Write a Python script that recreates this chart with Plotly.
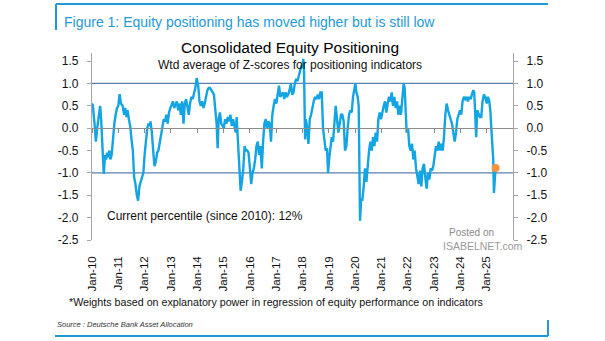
import plotly.graph_objects as go

# ---------------- data ----------------
DATES = [
    "2010-01-01", "2010-01-13", "2010-02-05", "2010-02-24", "2010-03-14", "2010-04-01", "2010-04-24",
    "2010-05-08", "2010-05-22", "2010-06-04", "2010-06-13", "2010-07-02", "2010-07-16", "2010-07-29",
    "2010-08-17", "2010-08-30", "2010-09-13", "2010-10-01", "2010-10-20", "2010-11-07", "2010-11-25",
    "2010-12-14",
    "2011-01-01", "2011-01-19", "2011-02-07", "2011-03-02", "2011-03-24", "2011-04-07", "2011-04-25",
    "2011-05-09", "2011-05-28", "2011-06-15", "2011-07-03", "2011-07-22", "2011-08-09", "2011-08-27",
    "2011-09-15", "2011-10-03", "2011-10-21", "2011-11-09", "2011-11-27", "2011-12-15",
    "2012-01-01", "2012-01-19", "2012-02-07", "2012-02-25", "2012-03-14", "2012-03-23", "2012-04-11",
    "2012-04-29", "2012-05-17", "2012-06-05", "2012-06-23", "2012-07-11", "2012-07-30", "2012-08-17",
    "2012-09-04", "2012-09-23", "2012-10-11", "2012-10-29", "2012-11-17", "2012-12-05", "2012-12-23",
    "2013-01-10", "2013-01-28", "2013-02-15", "2013-03-06", "2013-03-24", "2013-04-11", "2013-04-30",
    "2013-05-18", "2013-06-05", "2013-06-24", "2013-07-12", "2013-07-30", "2013-08-18", "2013-09-05",
    "2013-09-23", "2013-10-12", "2013-10-30", "2013-11-17", "2013-12-06", "2013-12-24",
    "2014-01-14", "2014-02-01", "2014-02-19", "2014-03-10", "2014-03-28", "2014-04-15", "2014-05-04",
    "2014-05-22", "2014-06-09", "2014-06-28", "2014-07-16", "2014-08-03", "2014-08-21", "2014-09-09",
    "2014-09-27", "2014-10-11", "2014-10-25", "2014-11-12", "2014-11-30", "2014-12-19",
    "2015-01-05", "2015-01-23", "2015-02-10", "2015-03-01", "2015-03-19", "2015-04-06", "2015-04-25",
    "2015-05-13", "2015-05-31", "2015-06-19", "2015-07-02", "2015-07-21", "2015-08-08", "2015-08-26",
    "2015-09-13", "2015-10-02", "2015-10-20", "2015-11-07", "2015-11-26", "2015-12-14",
    "2016-01-08", "2016-01-20", "2016-02-07", "2016-02-26", "2016-03-15", "2016-04-02", "2016-04-21",
    "2016-05-09", "2016-05-27", "2016-06-15", "2016-07-03", "2016-07-21", "2016-08-09", "2016-08-27",
    "2016-09-14", "2016-10-03", "2016-10-21", "2016-11-08", "2016-11-27", "2016-12-15",
    "2017-01-03", "2017-01-21", "2017-02-09", "2017-02-27", "2017-03-17", "2017-04-05", "2017-04-23",
    "2017-05-11", "2017-05-30", "2017-06-17", "2017-07-05", "2017-07-24", "2017-08-11", "2017-08-29",
    "2017-09-17", "2017-10-05", "2017-10-23", "2017-11-11", "2017-11-29", "2017-12-17", "2017-12-28",
    "2018-01-12", "2018-01-22", "2018-01-29", "2018-02-06", "2018-02-17", "2018-03-06", "2018-03-24",
    "2018-04-12", "2018-04-30", "2018-05-19", "2018-06-06", "2018-06-25", "2018-07-13", "2018-08-01",
    "2018-08-19", "2018-09-06", "2018-09-25", "2018-10-13", "2018-11-01", "2018-11-19", "2018-12-08",
    "2018-12-22",
    "2019-01-05", "2019-01-24", "2019-02-11", "2019-03-01", "2019-03-20", "2019-04-07", "2019-04-25",
    "2019-05-14", "2019-06-01", "2019-06-20", "2019-07-08", "2019-07-27", "2019-08-14", "2019-09-02",
    "2019-09-20", "2019-10-09", "2019-10-27", "2019-11-15", "2019-12-03", "2019-12-22",
    "2020-01-05", "2020-01-19", "2020-02-06", "2020-02-20", "2020-03-01", "2020-03-10", "2020-03-24",
    "2020-04-11", "2020-04-30", "2020-05-18", "2020-06-06", "2020-06-24", "2020-07-13", "2020-07-31",
    "2020-08-19", "2020-09-06", "2020-09-25", "2020-10-13", "2020-11-01", "2020-11-19", "2020-12-08",
    "2020-12-26",
    "2021-01-14", "2021-02-01", "2021-02-20", "2021-03-10", "2021-03-29", "2021-04-16", "2021-05-05",
    "2021-05-23", "2021-06-10", "2021-06-29", "2021-07-17", "2021-08-05", "2021-08-23", "2021-09-11",
    "2021-09-29", "2021-10-18", "2021-11-05", "2021-11-19", "2021-12-03", "2021-12-17",
    "2022-01-05", "2022-01-23", "2022-02-11", "2022-03-01", "2022-03-20", "2022-04-07", "2022-04-26",
    "2022-05-14", "2022-06-01", "2022-06-20", "2022-07-08", "2022-07-27", "2022-08-14", "2022-09-02",
    "2022-09-20", "2022-10-09", "2022-10-27", "2022-11-15", "2022-12-03", "2022-12-22",
    "2023-01-10", "2023-01-28", "2023-02-16", "2023-03-06", "2023-03-25", "2023-04-12", "2023-05-01",
    "2023-05-19", "2023-06-07", "2023-06-25", "2023-07-14", "2023-08-01", "2023-08-20", "2023-09-07",
    "2023-09-26", "2023-10-14", "2023-11-02", "2023-11-20", "2023-12-09", "2023-12-27",
    "2024-01-14", "2024-02-01", "2024-02-20", "2024-03-09", "2024-03-28", "2024-04-15", "2024-05-04",
    "2024-05-22", "2024-06-10", "2024-06-28", "2024-07-12", "2024-07-26", "2024-08-08", "2024-08-22",
    "2024-09-10", "2024-09-28", "2024-10-17", "2024-11-04", "2024-11-23", "2024-12-11",
    "2025-01-01", "2025-01-19", "2025-02-06", "2025-02-20", "2025-03-06", "2025-03-20", "2025-04-02",
    "2025-04-11", "2025-04-25", "2025-05-04",
]

VALUES = [
    0.55, 0.50, 0.10, -0.30, 0.00, 0.20, 0.50,
    0.20, -0.30, -0.90, -1.02, -0.60, -0.70, -0.55,
    -0.65, -0.50, -0.70, -0.60, -0.20, 0.10, 0.30,
    0.45,
    0.50, 0.76, 0.55, 0.50, 0.30, 0.45, 0.25,
    0.40, 0.20, 0.05, -0.25, -0.50, -1.10, -1.25,
    -1.50, -1.62, -1.30, -1.20, -1.05, -1.00,
    -0.60, -0.30, 0.00, 0.10, 0.05, 0.15, -0.10,
    -0.50, -0.85, -0.75, -0.55, -0.50, -0.30, -0.10,
    0.05, 0.20, 0.15, 0.30, 0.10, 0.35, 0.45,
    0.55, 0.60, 0.45, 0.55, 0.60, 0.40, 0.55,
    0.30, 0.60, 0.10, 0.55, 0.65, 0.45, 0.30,
    0.55, 0.70, 0.65, 0.75, 0.90, 1.12,
    0.95, 0.60, 0.50, 0.60, 0.45, 0.55, 0.70,
    0.85, 0.90, 0.90, 0.85, 0.80, 0.75, 0.40,
    0.10, -0.45, 0.20, 0.35, 0.10, 0.05,
    0.00, 0.20, 0.10, 0.25, 0.15, 0.30, 0.05,
    0.20, 0.05, -0.10, 0.25, -0.30, -1.00, -1.40,
    -1.20, -0.90, -0.40, -0.50, -0.50, -0.55,
    -1.00, -1.25, -1.00, -0.90, -0.70, -0.40, -0.30,
    -0.60, -0.40, -0.90, -0.30, 0.10, 0.20, 0.00,
    0.15, 0.10, -0.30, 0.30, 0.50, 0.65,
    0.55, 0.80, 0.95, 0.70, 0.75, 0.80, 0.65,
    0.80, 0.70, 0.75, 0.85, 1.00, 0.75, 0.80,
    1.00, 1.10, 1.05, 1.20, 1.30, 1.40, 1.35,
    1.55, 1.30, 0.50, -0.25, 0.20, 0.00, -0.35,
    0.20, 0.30, 0.50, 0.60, 0.70, 0.65, 0.75,
    0.65, 0.80, 0.80, 0.00, -0.30, -0.50, -0.45,
    -1.00,
    -0.70, -0.40, -0.20, -0.30, 0.20, 0.50, 0.20,
    -0.10, 0.10, 0.30, 0.30, 0.15, -0.50, -0.40,
    0.00, 0.30, 0.40, 0.35, 0.70, 0.85,
    1.00, 0.80, 0.70, 0.50, -0.50, -2.07, -1.60,
    -1.60, -1.30, -0.90, -1.20, -0.80, -0.50, -0.30,
    -0.50, -0.20, -0.40, -0.10, -0.30, 0.20, 0.35,
    0.20,
    0.40, 0.50, 0.60, 0.35, 0.55, 0.70, 0.60,
    0.80, 0.50, 0.70, 0.45, 0.60, 0.30, 0.50,
    0.30, 0.80, 1.00, 0.90, 0.20, -0.10,
    0.00, -0.40, -0.50, -0.35, -0.70, -0.50, -0.90,
    -1.05, -1.25, -0.95, -1.30, -0.90, -0.80, -1.10,
    -1.35, -1.00, -1.15, -0.90, -0.95, -0.85,
    -0.60, -0.40, -0.50, -0.30, -0.50, -0.35, -0.50,
    -0.20, 0.30, 0.55, 0.40, 0.30, 0.20, 0.10,
    -0.10, -0.30, -0.10, 0.20, 0.30, 0.40,
    0.30, 0.60, 0.70, 0.65, 0.70, 0.60, 0.70,
    0.65, 0.75, 0.85, 0.80, 0.20, -0.20, 0.40,
    0.30, 0.25, 0.25, 0.60, 0.75, 0.70,
    0.55, 0.70, 0.60, 0.40, 0.00, -0.35, -0.70,
    -1.45, -0.90, -0.89,
]

YEAR_TICKS = [f"{y}-01-01" for y in range(2010, 2026)]
YEAR_LABELS = [f"Jan-{y % 100:02d}" for y in range(2010, 2026)]
X_RANGE = ["2010-01-01", "2026-01-01"]

Y_TICKS = [-2.5, -2.0, -1.5, -1.0, -0.5, 0.0, 0.5, 1.0, 1.5]
Y_LABELS = ["-2.5", "-2.0", "-1.5", "-1.0", "-0.5", "0.0", "0.5", "1.0", "1.5"]
Y_RANGE = [-2.5, 1.68]
REF_LINES = [1.0, -1.0]

FIG_TITLE = "Figure 1: Equity positioning has moved higher but is still low"
CHART_TITLE = "Consolidated Equity Positioning"
SUBTITLE = "Wtd average of Z-scores for positioning indicators"
NOTE = "Current percentile (since 2010): 12%"
FOOTNOTE = "*Weights based on explanatory power in regression of equity performance on indicators"
SOURCE = "Source : Deutsche Bank Asset Allocation"

# ---------------- style ----------------
W, H = 605, 341
ML, MR, MT, MB = 92, 92, 53, 101
PW, PH = W - ML - MR, H - MT - MB
FONT = "Liberation Sans, Arial, Helvetica, sans-serif"
LINE_C = "#13A4E3"
DOT_C = "#F4923F"
AXIS_C = "#A6A6A6"
REF_C = "#5B7FAA"
BRAND_C = "#1E9AD6"


def fx(px):
    return (px - ML) / PW


def fy(py):
    return (H - MB - py) / PH


fig = go.Figure()
fig.add_trace(go.Scatter(x=DATES, y=VALUES, mode="lines",
                         line=dict(color=LINE_C, width=2.4), showlegend=False, hoverinfo="skip"))
fig.add_trace(go.Scatter(x=[DATES[-1]], y=[VALUES[-1]], mode="markers",
                         marker=dict(color=DOT_C, size=8), showlegend=False, hoverinfo="skip"))
# helper traces to bring the right axis and the zero-line axis to life
fig.add_trace(go.Scatter(x=[DATES[0]], y=[VALUES[0]], mode="lines", yaxis="y2",
                         showlegend=False, hoverinfo="skip", line=dict(width=0)))
fig.add_trace(go.Scatter(x=[DATES[0]], y=[VALUES[0]], mode="lines", xaxis="x2",
                         showlegend=False, hoverinfo="skip", line=dict(width=0)))

for v in REF_LINES:
    fig.add_hline(y=v, line=dict(color=REF_C, width=1.2), layer="below")

zero_pos = (0 - Y_RANGE[0]) / (Y_RANGE[1] - Y_RANGE[0])

yaxis_common = dict(range=Y_RANGE, tickvals=Y_TICKS, ticktext=Y_LABELS, showgrid=False,
                    zeroline=False, showline=True, linecolor=AXIS_C, linewidth=1.2,
                    ticks="outside", ticklen=4, tickcolor=AXIS_C,
                    tickfont=dict(family=FONT, size=12, color="#111111"), ticklabelstandoff=6)

fig.update_layout(
    width=W, height=H,
    margin=dict(l=ML, r=MR, t=MT, b=MB, autoexpand=False),
    paper_bgcolor="white", plot_bgcolor="white",
    xaxis=dict(type="date", range=X_RANGE, tickvals=YEAR_TICKS, ticktext=YEAR_LABELS,
               tickangle=-90, showgrid=False, zeroline=False, showline=False, ticks="",
               tickfont=dict(family=FONT, size=11.5, color="#111111"), ticklabelstandoff=13),
    xaxis2=dict(type="date", range=X_RANGE, tickvals=YEAR_TICKS, overlaying="x",
                anchor="free", position=zero_pos, side="bottom", showticklabels=False,
                showgrid=False, zeroline=False, showline=True, linecolor="#8C8C8C", linewidth=1.2,
                ticks="outside", ticklen=4, tickcolor="#8C8C8C"),
    yaxis=dict(side="left", **yaxis_common),
    yaxis2=dict(side="right", overlaying="y", anchor="x", **yaxis_common),
)

ann = [
    dict(text=FIG_TITLE, x=fx(62), y=fy(22), xanchor="left", yanchor="middle",
         font=dict(family=FONT, size=14, color=BRAND_C)),
    dict(text=CHART_TITLE, x=fx(290), y=fy(48), xanchor="center", yanchor="middle",
         font=dict(family=FONT, size=15.5, color="#000000")),
    dict(text=SUBTITLE, x=fx(289.5), y=fy(65), xanchor="center", yanchor="middle",
         font=dict(family=FONT, size=12, color="#111111")),
    dict(text=NOTE, x=fx(105), y=fy(216), xanchor="left", yanchor="middle",
         font=dict(family=FONT, size=12, color="#111111")),
    dict(text=FOOTNOTE, x=fx(67), y=fy(302), xanchor="left", yanchor="middle",
         font=dict(family=FONT, size=10.7, color="#111111")),
    dict(text="<i>" + SOURCE + "</i>", x=fx(55), y=fy(324), xanchor="left", yanchor="middle",
         font=dict(family=FONT, size=7.5, color="#333333")),
    dict(text="Posted on", x=fx(447), y=fy(232), xanchor="left", yanchor="middle",
         font=dict(family=FONT, size=10, color="#8A8A8A")),
    dict(text="ISABELNET.com", x=fx(441), y=fy(246), xanchor="left", yanchor="middle",
         font=dict(family=FONT, size=10.5, color="#9A9A9A")),
]
for a in ann:
    a.update(xref="paper", yref="paper", showarrow=False)
fig.update_layout(annotations=ann)

shp = [
    dict(x0=fx(56), x1=fx(548), y0=fy(4), y1=fy(4)),
    dict(x0=fx(56), x1=fx(56), y0=fy(4), y1=fy(30)),
    dict(x0=fx(55), x1=fx(548), y0=fy(336), y1=fy(336)),
    dict(x0=fx(548), x1=fx(548), y0=fy(320), y1=fy(336)),
]
for s in shp:
    fig.add_shape(type="line", xref="paper", yref="paper", line=dict(color=BRAND_C, width=2), **s)

fig.write_html("out.html")
